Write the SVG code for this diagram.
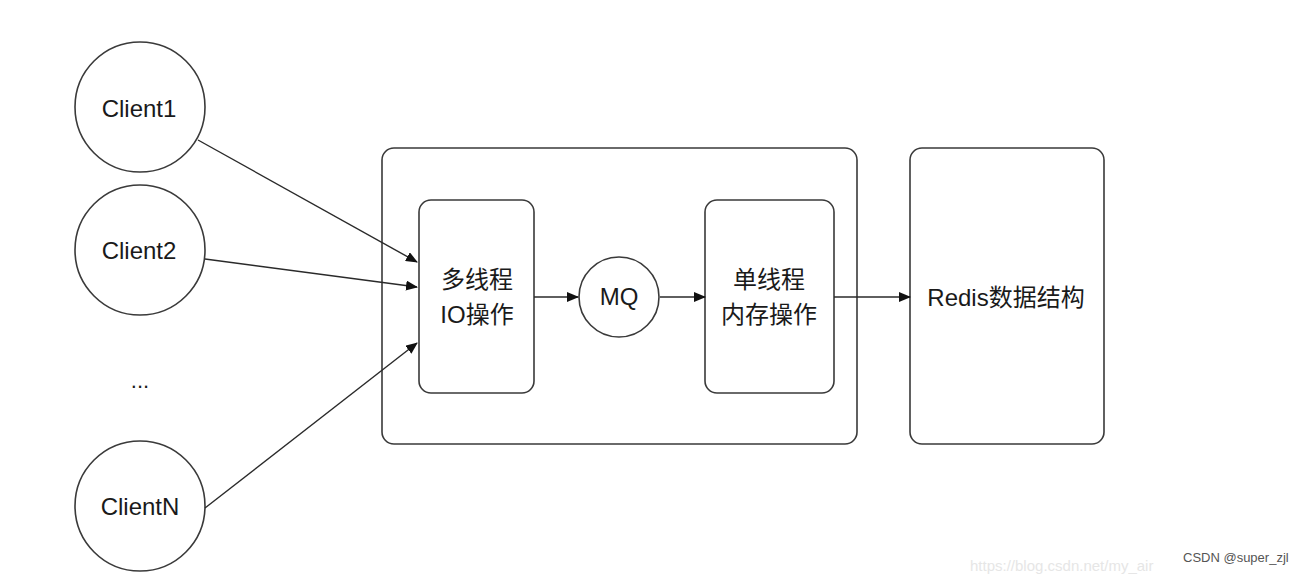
<svg xmlns="http://www.w3.org/2000/svg" width="1310" height="574" viewBox="0 0 1310 574">
<style>
.s{fill:#fff;stroke:#3a3a3a;stroke-width:1.6}
.t{font-family:"Liberation Sans","Noto Sans CJK SC",sans-serif;fill:#1a1a1a;text-anchor:middle}
.c{stroke:#2a2a2a;stroke-width:1.4;fill:none;marker-end:url(#a)}
</style>
<defs>
<marker id="a" markerWidth="12" markerHeight="10" refX="11" refY="5" orient="auto" markerUnits="userSpaceOnUse">
<path d="M0,0 L12,5 L0,10 Z" fill="#111"/>
</marker>
</defs>
<rect width="1310" height="574" fill="#fff"/>
<g id="outer"><rect class="s" x="382" y="148" width="475" height="296" rx="12"/></g>
<g id="client1"><circle class="s" cx="140" cy="107" r="65"/><text class="t" x="139" y="117" font-size="24">Client1</text></g>
<g id="client2"><circle class="s" cx="140" cy="250" r="65"/><text class="t" x="139" y="259" font-size="24">Client2</text></g>
<g id="dots"><text class="t" x="140" y="388" font-size="22">...</text></g>
<g id="clientN"><circle class="s" cx="140" cy="506" r="65"/><text class="t" x="140" y="515" font-size="24">ClientN</text></g>
<g id="io"><rect class="s" x="419" y="200" width="115" height="193" rx="12"/><text class="t" x="477" y="288" font-size="24">多线程</text><text class="t" x="477" y="323" font-size="24">IO操作</text></g>
<g id="mq"><circle class="s" cx="619" cy="297" r="40"/><text class="t" x="619" y="305" font-size="24">MQ</text></g>
<g id="mem"><rect class="s" x="705" y="200" width="129" height="193" rx="12"/><text class="t" x="769" y="288" font-size="24">单线程</text><text class="t" x="769" y="323" font-size="24">内存操作</text></g>
<g id="redis"><rect class="s" x="910" y="148" width="194" height="296" rx="12"/><text class="t" x="1006" y="306" font-size="24">Redis数据结构</text></g>
<g id="connectors">
<line class="c" x1="198" y1="140" x2="417" y2="262"/>
<line class="c" x1="205" y1="259" x2="417" y2="287"/>
<line class="c" x1="205" y1="508" x2="417" y2="343"/>
<line class="c" x1="534" y1="297" x2="578" y2="297"/>
<line class="c" x1="660" y1="297" x2="705" y2="297"/>
<line class="c" x1="834" y1="297" x2="910" y2="297"/>
</g>
<text x="970" y="571" font-family="Liberation Sans,sans-serif" font-size="15" fill="#e6e6e6">https://blog.csdn.net/my_air</text>
<text x="1183" y="562" font-family="Liberation Sans,sans-serif" font-size="13" fill="#555">CSDN @super_zjl</text>
</svg>
